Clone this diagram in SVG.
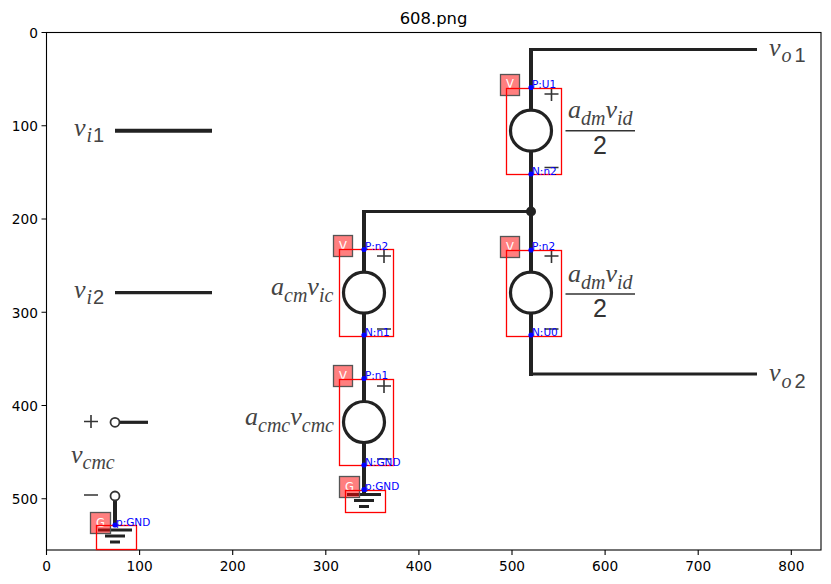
<svg xmlns="http://www.w3.org/2000/svg" width="831" height="584" viewBox="0 0 831 584">
<style>
text{font-family:"DejaVu Sans",sans-serif}
.tl{font-size:13.7px;fill:#000;text-anchor:end}
.tb{font-size:13.7px;fill:#000;text-anchor:middle}
.ax{stroke:#000;stroke-width:1.1;fill:none}
.w{stroke:#222;stroke-width:4;fill:none}
.w3{stroke:#222;stroke-width:3.2;fill:none}
.src{stroke:#222;stroke-width:3.2;fill:#fff}
.sign{stroke:#333;stroke-width:1.6;fill:none}
.frac{stroke:#333;stroke-width:1.6;fill:none}
.box{stroke:#f00;stroke-width:1.3;fill:none}
.badge{fill:#ff0000;fill-opacity:.5;stroke:#555;stroke-width:1.3}
.bt{font-size:11.5px;fill:#fff;text-anchor:middle}
.port{font-size:10.5px;fill:#00f}
.dot{fill:#00f}
.gb{stroke:#222;stroke-width:3;fill:none}
.m{font-family:"Liberation Serif",serif;font-style:italic;fill:#444;font-size:26px}
.ms{font-family:"Liberation Serif",serif;font-style:italic;fill:#444;font-size:20px}
.n{font-family:"Liberation Sans",sans-serif;fill:#444;font-size:20px}
.n2{font-family:"Liberation Sans",sans-serif;fill:#333;font-size:25px;text-anchor:middle}
</style>
<rect width="831" height="584" fill="#fff"/>
<text x="433.5" y="24" font-size="16.4" text-anchor="middle" fill="#000">608.png</text>
<g id="axes">
<rect class="ax" x="46.5" y="32.5" width="774.5" height="517.5"/>
<path class="ax" d="M46.5 550v5M139.6 550v5M232.7 550v5M325.8 550v5M418.9 550v5M512 550v5M605.1 550v5M698.2 550v5M791.3 550v5M46.5 32.5h-5M46.5 125.8h-5M46.5 219h-5M46.5 312.2h-5M46.5 405.5h-5M46.5 498.8h-5"/>
<text class="tb" x="46.5" y="571">0</text><text class="tb" x="139.6" y="571">100</text><text class="tb" x="232.7" y="571">200</text><text class="tb" x="325.8" y="571">300</text><text class="tb" x="418.9" y="571">400</text><text class="tb" x="512" y="571">500</text><text class="tb" x="605.1" y="571">600</text><text class="tb" x="698.2" y="571">700</text><text class="tb" x="791.3" y="571">800</text>
<text class="tl" x="38" y="37.5">0</text><text class="tl" x="38" y="131">100</text><text class="tl" x="38" y="224">200</text><text class="tl" x="38" y="317.5">300</text><text class="tl" x="38" y="410.5">400</text><text class="tl" x="38" y="504">500</text>
</g>
<g id="connectors">
<path class="w" d="M531 48V376"/>
<path class="w3" d="M529 49.5H757M529 374H757"/>
<path class="w3" d="M531 211.5H362.5"/>
<path class="w" d="M364 210V495"/>
<circle cx="531" cy="211.5" r="5" fill="#222"/>
<path class="w" d="M115 130.7H212"/>
<path class="w3" d="M115 292.6H212"/>
<path class="w3" d="M119 422.3H148"/>
<path class="w" d="M115 500V526"/>
<path class="gb" d="M347 494.5H381M354 500.5H374M359 506.5H369"/>
<path class="gb" d="M98 530H132M105 536H125M110 542H120"/>
<path class="sign" d="M91 415V428M84 421.5H98M84 495H98"/>
<circle cx="115" cy="422.3" r="4.5" fill="#fff" stroke="#333" stroke-width="1.8"/>
<circle cx="115" cy="496" r="4.5" fill="#fff" stroke="#333" stroke-width="1.8"/>
</g>
<g id="labels">
<text x="769" y="56"><tspan class="m">v</tspan><tspan class="ms" dy="6" dx="1">o</tspan><tspan class="n" dx="3">1</tspan></text>
<text x="769" y="381"><tspan class="m">v</tspan><tspan class="ms" dy="7" dx="1">o</tspan><tspan class="n" dx="3">2</tspan></text>
<text x="74" y="136"><tspan class="m">v</tspan><tspan class="ms" dy="6" dx="1">i</tspan><tspan class="n" dx="1">1</tspan></text>
<text x="74" y="297.5"><tspan class="m">v</tspan><tspan class="ms" dy="6" dx="1">i</tspan><tspan class="n" dx="1">2</tspan></text>
<text x="71" y="463"><tspan class="m">v</tspan><tspan class="ms" dy="6">cmc</tspan></text>
<text x="271" y="295"><tspan class="m" font-size="28">a</tspan><tspan class="ms" dy="7">cm</tspan><tspan class="m" font-size="28" dy="-7">v</tspan><tspan class="ms" dy="7">ic</tspan></text>
<text x="245" y="425"><tspan class="m" font-size="28">a</tspan><tspan class="ms" dy="7">cmc</tspan><tspan class="m" font-size="28" dy="-7">v</tspan><tspan class="ms" dy="7">cmc</tspan></text>
<text x="568" y="118"><tspan class="m" font-size="28">a</tspan><tspan class="ms" dy="7">dm</tspan><tspan class="m" font-size="28" dy="-7">v</tspan><tspan class="ms" dy="7">id</tspan></text>
<path class="frac" d="M565.5 130.7H635"/>
<text class="n2" x="600" y="154">2</text>
<text x="568" y="282"><tspan class="m" font-size="28">a</tspan><tspan class="ms" dy="7">dm</tspan><tspan class="m" font-size="28" dy="-7">v</tspan><tspan class="ms" dy="7">id</tspan></text>
<path class="frac" d="M565.5 294H635"/>
<text class="n2" x="600" y="317">2</text>
</g>
<g id="V1">
<path class="sign" d="M551.5 87V101M544.5 94H558.5M544.5 167.5H558.5"/>
<circle class="src" cx="531" cy="130.7" r="20.5"/>
<rect class="badge" x="500.5" y="74.5" width="19" height="21"/><text class="bt" x="510" y="88">V</text>
<rect class="box" x="506.5" y="88.5" width="55" height="86"/>
<circle class="dot" cx="531" cy="87.5" r="2.6"/><text class="port" x="532" y="87.5">P:U1</text>
<circle class="dot" cx="531" cy="174" r="2.6"/><text class="port" x="532" y="175">N:n2</text>
</g>
<g id="V2">
<path class="sign" d="M551.5 249V263M544.5 256H558.5M544.5 329H558.5"/>
<circle class="src" cx="531" cy="292.7" r="20.5"/>
<rect class="badge" x="500.5" y="236.5" width="19" height="21"/><text class="bt" x="510" y="250.5">V</text>
<rect class="box" x="506.5" y="250.5" width="55" height="86"/>
<circle class="dot" cx="531" cy="250" r="2.6"/><text class="port" x="532" y="250">P:n2</text>
<circle class="dot" cx="531" cy="335" r="2.6"/><text class="port" x="532" y="336">N:U0</text>
</g>
<g id="V3">
<path class="sign" d="M384 249V263M377 256H391M377 329H391"/>
<circle class="src" cx="364" cy="292.7" r="20.5"/>
<rect class="badge" x="333.5" y="235.5" width="19" height="21"/><text class="bt" x="343" y="250">V</text>
<rect class="box" x="339.5" y="249.5" width="54" height="87"/>
<circle class="dot" cx="364" cy="249.5" r="2.6"/><text class="port" x="365" y="249.5">P:n2</text>
<circle class="dot" cx="364" cy="335" r="2.6"/><text class="port" x="365" y="336">N:n1</text>
</g>
<g id="V4">
<path class="sign" d="M384 379V393M377 386H391M377 459H391"/>
<circle class="src" cx="364" cy="422" r="20.5"/>
<rect class="badge" x="333.5" y="365.5" width="19" height="21"/><text class="bt" x="343" y="380">V</text>
<rect class="box" x="339.5" y="379.5" width="54" height="86"/>
<circle class="dot" cx="364" cy="378.5" r="2.6"/><text class="port" x="365" y="379">P:n1</text>
<circle class="dot" cx="364" cy="465" r="2.6"/><text class="port" x="365" y="466">N:GND</text>
</g>
<g id="G1">
<rect class="badge" x="339.5" y="476.5" width="20" height="21"/><text class="bt" x="349.5" y="490.5">G</text>
<rect class="box" x="345.5" y="490.5" width="40" height="22"/>
<circle class="dot" cx="364" cy="489.5" r="2.6"/><text class="port" x="365" y="490">p:GND</text>
</g>
<g id="G2">
<rect class="badge" x="90.5" y="512.5" width="20" height="21"/><text class="bt" x="100.5" y="526.5">G</text>
<rect class="box" x="96.5" y="525.5" width="40" height="24"/>
<circle class="dot" cx="115" cy="525" r="2.6"/><text class="port" x="116" y="525.5">p:GND</text>
</g>
</svg>
